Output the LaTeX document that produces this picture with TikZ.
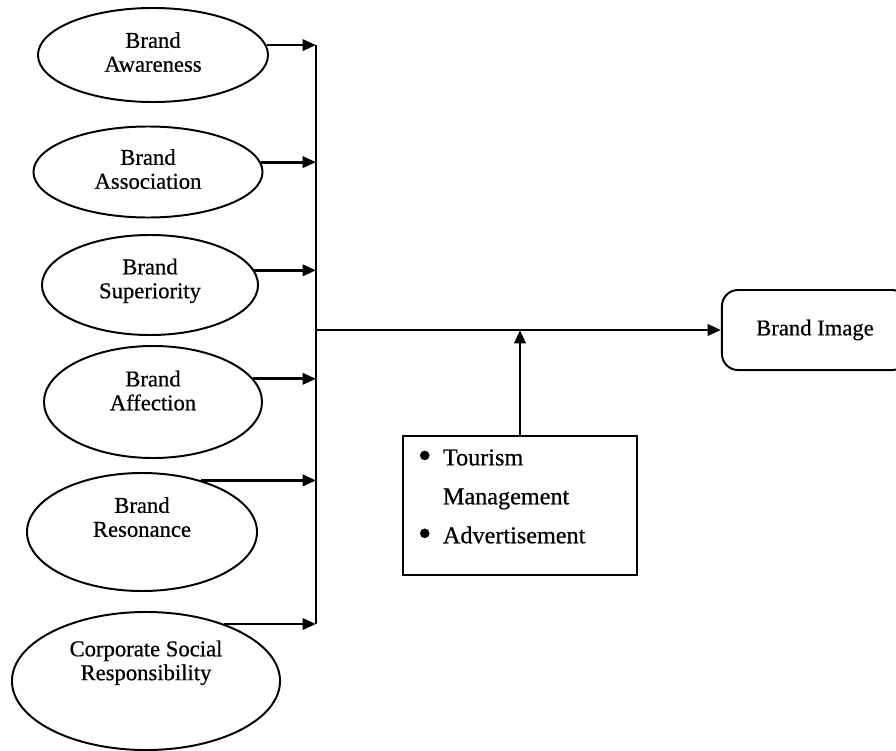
\documentclass[tikz,border=0pt]{standalone}
\usepackage{fontspec}
\setmainfont{Liberation Serif}
\newfontfamily\diagfont{Liberation Serif}[FakeBold=0.6]
\usetikzlibrary{shapes.geometric, arrows.meta, positioning, calc}

\newcommand{\twolines}[3][0pt]{\begin{tabular}{@{}c@{}}#2\\#3\\[#1]\end{tabular}}

\begin{document}
\begin{tikzpicture}[x=0.025cm, y=-0.025cm, >={Triangle[length=9.5pt,width=8pt]},
  factor/.style = {ellipse, draw, line width=1.4pt, inner sep=0pt, font=\diagfont\fontsize{16.1pt}{17pt}\selectfont},
  result/.style = {rectangle, draw, rounded corners=0.4cm, line width=1.4pt, minimum width=4.65cm, minimum height=2cm, font=\diagfont\fontsize{16.1pt}{17pt}\selectfont},
  moder/.style = {rectangle, draw, line width=1.4pt, align=left, text width=5.1cm, inner xsep=0.375cm, inner ysep=0pt, minimum height=3.475cm, font=\diagfont\fontsize{17.2pt}{27.7pt}\selectfont},
  link/.style = {->, line width=2pt}]
  \useasboundingbox (0,0) rectangle (896,751);

  \node[factor, minimum width=5.75cm, minimum height=2.35cm] (aw) at (153,55) {\twolines{Brand}{Awareness}};
  \node[factor, minimum width=5.725cm, minimum height=2.275cm] (as) at (148,172) {\twolines{Brand}{Association}};
  \node[factor, minimum width=5.4cm, minimum height=2.5cm] (su) at (150,285) {\twolines[5pt]{Brand}{Superiority}};
  \node[factor, minimum width=5.45cm, minimum height=2.8cm] (af) at (153,402) {\twolines[12pt]{Brand}{Affection}};
  \node[factor, minimum width=5.75cm, minimum height=2.95cm] (re) at (142,532) {\twolines[17pt]{Brand}{Resonance}};
  \node[factor, minimum width=6.7cm, minimum height=3.45cm] (csr) at (146,681) {\twolines[25pt]{Corporate Social}{Responsibility}};

  \node[result] (img) at (815,330) {Brand Image};
  \node[moder] (mod) at (520,505.5) {\begin{tabular}{@{}l@{}l@{}}\makebox[0.625cm][l]{\raisebox{-0.12em}{\scalebox{1.6}{\textbullet}}} & Tourism\\ & Management\\ \raisebox{-0.12em}{\scalebox{1.6}{\textbullet}} & Advertisement\\[12.8pt]\end{tabular}};

  \coordinate (hub) at (316,330);
  \draw[line width=2pt] (aw.5 -| hub) -- (csr.36 -| hub);
  \foreach \n/\a in {aw/5, as/5, su/8, af/13, re/41, csr/36}
    \draw[link] (\n.\a) -- (\n.\a -| hub);
  \draw[link] (hub) -- (img);
  \draw[link] (mod.north) -- (mod.north |- hub);
\end{tikzpicture}
\end{document}
